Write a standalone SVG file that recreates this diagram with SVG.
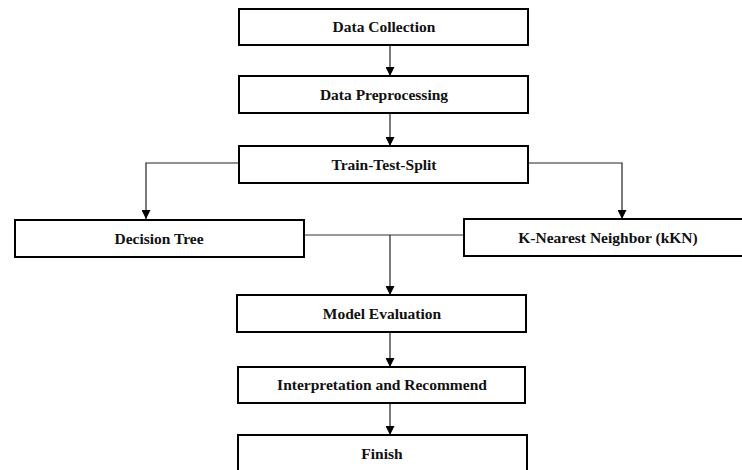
<svg xmlns="http://www.w3.org/2000/svg" width="742" height="470" viewBox="0 0 742 470">
<style>
.box{fill:#fff;stroke:#000;stroke-width:2}
.lbl{font-family:"Liberation Serif","Times New Roman",serif;font-weight:bold;font-size:15.5px;text-anchor:middle;fill:#111}
.ln{fill:none;stroke:#333;stroke-width:1}
.arr{fill:none;stroke:#222;stroke-width:1.2;marker-end:url(#ah)}
</style>
<defs>
<marker id="ah" viewBox="0 0 10 10" refX="10" refY="5" markerWidth="9" markerHeight="9" markerUnits="userSpaceOnUse" orient="auto">
<path d="M0,0 L10,5 L0,10 Z" fill="#000"/>
</marker>
</defs>
<g id="connectors">
<line class="arr" x1="390" y1="45" x2="390" y2="76"/>
<line class="arr" x1="390" y1="113" x2="390" y2="146"/>
<polyline class="arr" points="239,163 146,163 146,219"/>
<polyline class="arr" points="528,163 622,163 622,219"/>
<line class="ln" x1="304" y1="235" x2="464" y2="235"/>
<line class="arr" x1="390" y1="235" x2="390" y2="295"/>
<line class="arr" x1="390" y1="332" x2="390" y2="367"/>
<line class="arr" x1="390" y1="403" x2="390" y2="435"/>
</g>
<g id="n1"><rect class="box" x="239" y="9" width="289" height="36"/><text class="lbl" x="384" y="32">Data Collection</text></g>
<g id="n2"><rect class="box" x="239" y="76" width="289" height="37"/><text class="lbl" x="384" y="100">Data Preprocessing</text></g>
<g id="n3"><rect class="box" x="239" y="146" width="289" height="37"/><text class="lbl" x="384" y="170">Train-Test-Split</text></g>
<g id="n4"><rect class="box" x="15" y="220" width="289" height="37"/><text class="lbl" x="159" y="244">Decision Tree</text></g>
<g id="n5"><rect class="box" x="464" y="219" width="290" height="37"/><text class="lbl" x="608" y="243">K-Nearest Neighbor (kKN)</text></g>
<g id="n6"><rect class="box" x="237" y="295" width="289" height="37"/><text class="lbl" x="382" y="319">Model Evaluation</text></g>
<g id="n7"><rect class="box" x="238" y="367" width="287" height="36"/><text class="lbl" x="382" y="390">Interpretation and Recommend</text></g>
<g id="n8"><rect class="box" x="238" y="435" width="289" height="45"/><text class="lbl" x="382" y="459">Finish</text></g>
</svg>
